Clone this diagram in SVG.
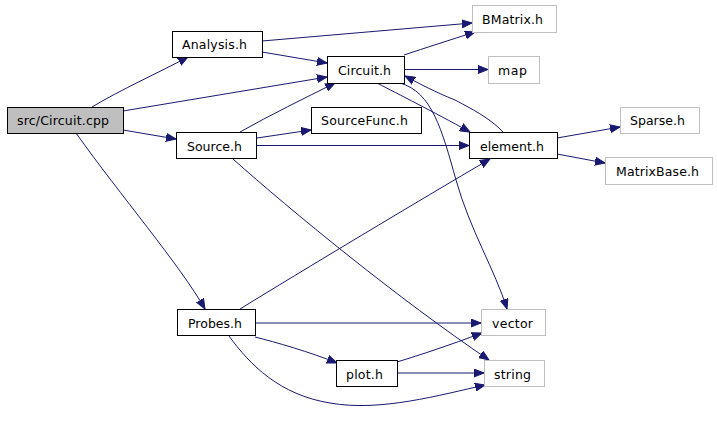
<svg xmlns="http://www.w3.org/2000/svg" width="717" height="421" viewBox="0 0 717 421">
<style>
.n rect{fill:#ffffff;stroke:#000000;stroke-width:1}
.n.ext rect{stroke:#bfbfbf}
.n.root rect{fill:#bfbfbf}
.n text{font-family:"DejaVu Sans",sans-serif;font-size:12.5px;fill:#000000;text-anchor:middle}
#edges path{fill:none;stroke:#191970;stroke-width:1;marker-end:url(#ah)}
</style>
<defs>
<marker id="ah" markerUnits="userSpaceOnUse" markerWidth="11" markerHeight="9" refX="10" refY="4.5" orient="auto">
<path d="M0,0.5 L10,4.5 L0,8.5 z" fill="#191970" stroke="#191970" stroke-width="1"/>
</marker>
</defs>
<rect width="717" height="421" fill="#ffffff"/>
<g id="edges">
<path d="M92,107 C120,90 160,72 188,57"/>
<path d="M123,111 L327,77"/>
<path d="M123,130 L176,139"/>
<path d="M76,133 C120,195 180,265 205,309"/>
<path d="M262,41 L472,23"/>
<path d="M262,52 L327,63"/>
<path d="M404,55 C425,48 450,40 475,32"/>
<path d="M404,69.5 L488,69.5"/>
<path d="M377,83 C400,95 430,110 470,132"/>
<path d="M503,132 C490,118 470,108 455,100 C435,92 420,84 405,76"/>
<path d="M400,83 C432,92 442,130 456,180 C470,230 495,270 507,309"/>
<path d="M240,132 C270,115 305,98 335,83"/>
<path d="M257,138 L311,130"/>
<path d="M257,145.5 L469,145.5"/>
<path d="M233,159 C290,210 400,300 489,360"/>
<path d="M557,138 L620,127"/>
<path d="M557,154 L605,163"/>
<path d="M240,309 C300,272 420,200 490,159"/>
<path d="M255,323 L481,323"/>
<path d="M255,337 C275,342 310,352 337,363"/>
<path d="M229,336 C250,365 280,395 330,403 C380,412 440,395 485,385"/>
<path d="M397,362 C420,355 450,345 482,333"/>
<path d="M397,373 L484,373"/>
</g>
<g id="src_Circuit_cpp" class="n root"><rect x="7.5" y="107.5" width="116" height="26"/><text x="63" y="125" textLength="92" lengthAdjust="spacing">src/Circuit.cpp</text></g>
<g id="Analysis_h" class="n"><rect x="172.5" y="31.5" width="90" height="26"/><text x="214.5" y="49" textLength="65" lengthAdjust="spacing">Analysis.h</text></g>
<g id="Circuit_h" class="n"><rect x="327.5" y="56.5" width="77" height="27"/><text x="364.5" y="74.5" textLength="53" lengthAdjust="spacing">Circuit.h</text></g>
<g id="Source_h" class="n"><rect x="176.5" y="132.5" width="80" height="26"/><text x="214.5" y="150.5" textLength="55" lengthAdjust="spacing">Source.h</text></g>
<g id="SourceFunc_h" class="n"><rect x="311.5" y="107.5" width="110" height="26"/><text x="364.5" y="125" textLength="87" lengthAdjust="spacing">SourceFunc.h</text></g>
<g id="Probes_h" class="n"><rect x="177.5" y="309.5" width="78" height="26"/><text x="215" y="327.5" textLength="54" lengthAdjust="spacing">Probes.h</text></g>
<g id="plot_h" class="n"><rect x="336.5" y="360.5" width="61" height="26"/><text x="364.5" y="378.5" textLength="37" lengthAdjust="spacing">plot.h</text></g>
<g id="element_h" class="n"><rect x="469.5" y="132.5" width="88" height="26"/><text x="512" y="150.5" textLength="64" lengthAdjust="spacing">element.h</text></g>
<g id="BMatrix_h" class="n ext"><rect x="472.5" y="5.5" width="84" height="27"/><text x="512.5" y="23.5" textLength="61" lengthAdjust="spacing">BMatrix.h</text></g>
<g id="map" class="n ext"><rect x="488.5" y="56.5" width="51" height="27"/><text x="512.5" y="74.5" textLength="29" lengthAdjust="spacing">map</text></g>
<g id="Sparse_h" class="n ext"><rect x="620.5" y="107.5" width="79" height="26"/><text x="657.5" y="125" textLength="55" lengthAdjust="spacing">Sparse.h</text></g>
<g id="MatrixBase_h" class="n ext"><rect x="605.5" y="157.5" width="107" height="27"/><text x="657.5" y="175.5" textLength="83" lengthAdjust="spacing">MatrixBase.h</text></g>
<g id="vector" class="n ext"><rect x="481.5" y="309.5" width="64" height="26"/><text x="512.5" y="327.5" textLength="41" lengthAdjust="spacing">vector</text></g>
<g id="string" class="n ext"><rect x="484.5" y="360.5" width="60" height="26"/><text x="512.5" y="378.5" textLength="37" lengthAdjust="spacing">string</text></g>
</svg>
